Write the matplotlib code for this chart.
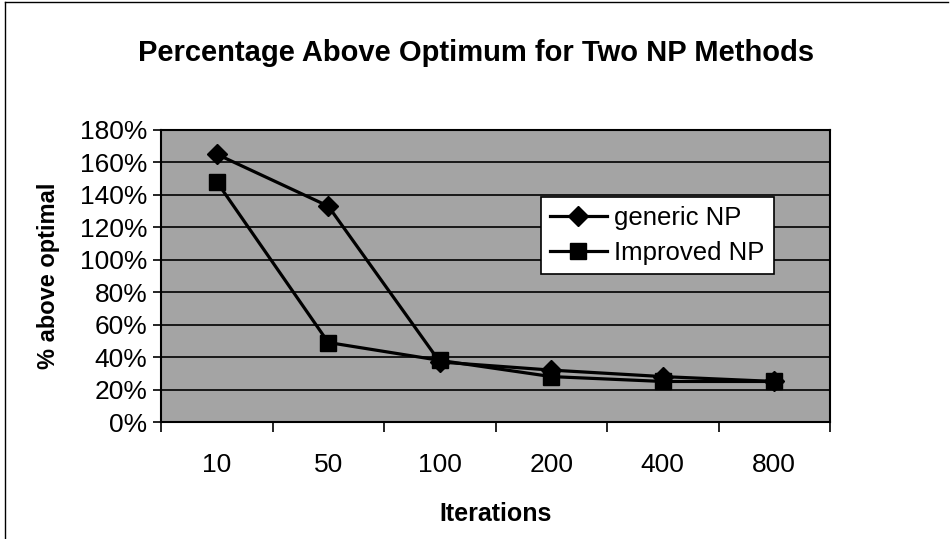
import matplotlib.pyplot as plt
from matplotlib.lines import Line2D

iterations = ["10", "50", "100", "200", "400", "800"]
generic_np = [165, 133, 37, 32, 28, 25]
improved_np = [148, 49, 38, 28, 25, 25]
y_ticks = [0, 20, 40, 60, 80, 100, 120, 140, 160, 180]

plt.rcParams["font.family"] = ["Liberation Sans", "DejaVu Sans"]

fig = plt.figure(figsize=(9.53, 5.39), dpi=100)
ax = fig.add_axes([0.169, 0.217, 0.702, 0.542])
ax.set_facecolor("#a4a4a4")

x = list(range(len(iterations)))
ax.plot(x, generic_np, color="black", lw=2.3, marker="D", ms=10, label="generic NP")
ax.plot(x, improved_np, color="black", lw=2.3, marker="s", ms=12, label="Improved NP")

ax.set_xlim(-0.5, len(iterations) - 0.5)
ax.set_ylim(0, 180)
ax.set_yticks(y_ticks)
ax.set_yticklabels([f"{v}%" for v in y_ticks], fontsize=19)
ax.yaxis.grid(True, color="black", lw=1.2)
ax.set_axisbelow(True)

# Excel style: ticks between categories, labels centred
ax.set_xticks([i - 0.5 for i in range(len(iterations) + 1)])
ax.set_xticklabels([])
ax.set_xticks(x, minor=True)
ax.set_xticklabels(iterations, minor=True, fontsize=19)
ax.tick_params(axis="x", which="minor", length=0, pad=22)
ax.tick_params(axis="x", which="major", length=7, width=1.2, direction="out")
ax.tick_params(axis="y", length=6, width=1.2, direction="out", pad=4)

for side in ["left", "bottom", "top", "right"]:
    ax.spines[side].set_color("black")
    ax.spines[side].set_linewidth(1.5)

ax.set_xlabel("Iterations", fontsize=18, fontweight="bold", labelpad=18)
ax.set_ylabel("% above optimal", fontsize=17, fontweight="bold", labelpad=14)
fig.suptitle("Percentage Above Optimum for Two NP Methods", fontsize=21,
             fontweight="bold", y=0.928)

leg = ax.legend(loc="upper left", bbox_to_anchor=(0.568, 0.771), fontsize=18.5,
                frameon=True, fancybox=False, framealpha=1, edgecolor="black",
                handlelength=2.2, handletextpad=0.3, borderpad=0.35,
                labelspacing=0.45, borderaxespad=0)
leg.get_frame().set_linewidth(1.2)

# outer chart border
fig.add_artist(Line2D([0.005, 0.995], [0.996, 0.996], color="black", lw=1))
fig.add_artist(Line2D([0.005, 0.005], [0.0, 0.996], color="black", lw=1))

fig.savefig("out.png", dpi=100)
